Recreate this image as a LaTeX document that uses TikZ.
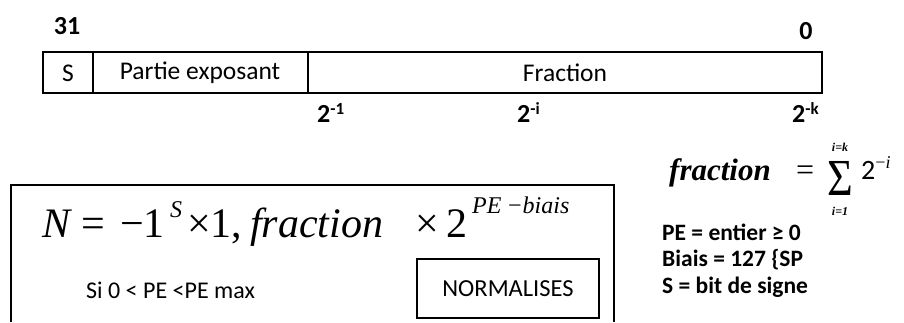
\documentclass[tikz,border=0pt]{standalone}
\usepackage{fontspec}
\setmainfont{Carlito}
\newfontfamily\timesf{Liberation Serif}
\tikzset{
  reg/.style={draw, line width=1.5pt},
  lbl/.style={inner sep=0pt, font=\fontsize{25.5}{25.5}\selectfont},
  bitlbl/.style={inner sep=0pt, font=\fontsize{26}{26}\selectfont\bfseries},
  rtxt/.style={inner sep=0pt, anchor=base west, font=\fontsize{23.5}{23.5}\selectfont\bfseries},
  frame/.style={draw, line width=1.4pt},
  fm/.style={inner sep=0pt, anchor=base west, font=\timesf\fontsize{42}{42}\selectfont},
  fmi/.style={inner sep=0pt, anchor=base west, font=\timesf\itshape\fontsize{42}{42}\selectfont},
  fsup/.style={inner sep=0pt, anchor=base west, font=\timesf\itshape\fontsize{24}{24}\selectfont},
  lim/.style={inner sep=0pt, anchor=base, font=\timesf\bfseries\itshape\fontsize{12}{12}\selectfont},
}
\newcommand{\pw}[1]{2\raisebox{8pt}{\fontsize{17}{17}\selectfont #1}}
\begin{document}
\begin{tikzpicture}[x=1pt,y=-1pt]
\useasboundingbox (0,0) rectangle (904,322);
% register
\draw[reg] (43,52) rectangle (822,93);
\draw[line width=1.2pt] (93,52) -- (93,93);
\draw[line width=1.2pt] (308,52) -- (308,93);
\node[lbl] (s) at (68,73) {S};
\node[lbl] (pe) at (200,73) {Partie exposant};
\node[lbl] (fr) at (565,73) {Fraction};
\node[bitlbl, anchor=base] (b31) at (67,34) {31};
\node[bitlbl, anchor=base] (b0) at (806,39) {0};
\node[bitlbl, anchor=base west] (e1) at (317,122) {\pw{-1}};
\node[bitlbl, anchor=base west] (ei) at (517,122) {\pw{-i}};
\node[bitlbl, anchor=base west] (ek) at (792,122) {\pw{-k}};
% fraction definition
\node[inner sep=0pt, anchor=base west, font=\timesf\bfseries\itshape\fontsize{31}{31}\selectfont] (fw) at (669,180) {fraction};
\node[inner sep=0pt, anchor=base west, font=\timesf\fontsize{32}{32}\selectfont] (eq) at (796,180) {=};
\node[inner sep=0pt, anchor=base, font=\timesf\fontsize{52}{52}\selectfont] (sig) at (840,195) {\raisebox{0pt}[\height][0pt]{\scalebox{0.85}[1]{Σ}}};
\node[lim] (top) at (840,151) {i=k};
\node[lim] (bot) at (840,215) {i=1};
\node[inner sep=0pt, anchor=base west, font=\fontsize{28}{28}\selectfont] (two) at (861,179) {2\raisebox{11pt}{\fontsize{18}{18}\selectfont\timesf −\textit{i}}};
% notes
\node[rtxt] (n1) at (662,240) {PE = entier ≥ 0};
\node[rtxt] (n2) at (662,266) {Biais = 127 \{SP};
\node[rtxt] (n3) at (662,293) {S = bit de signe};
% bottom frame
\draw[frame] (11,322) -- (11,185) -- (614,185) -- (614,322);
\node[fmi] (fN) at (42,237) {N};
\node[fm] (feq) at (81,237) {=};
\node[fm] (fm1) at (120,237) {−1};
\node[fsup] (fS) at (170,217) {S};
\node[fm] (fx1) at (187,237) {×1,};
\node[fmi] (ffr) at (250,237) {fraction};
\node[fm] (fx2) at (415,237) {×};
\node[fm] (f2) at (446,237) {2};
\node[fsup] (fexp) at (472,213) {PE\hspace{5pt}−biais};
\node[inner sep=0pt, anchor=base west, font=\fontsize{24}{24}\selectfont] (cond) at (86,298) {Si 0 < PE <PE max};
\node[draw, line width=1.2pt, minimum width=182pt, minimum height=59pt, inner sep=0pt, font=\fontsize{24.5}{24.5}\selectfont] (norm) at (508,288.5) {NORMALISES};
\end{tikzpicture}
\end{document}
